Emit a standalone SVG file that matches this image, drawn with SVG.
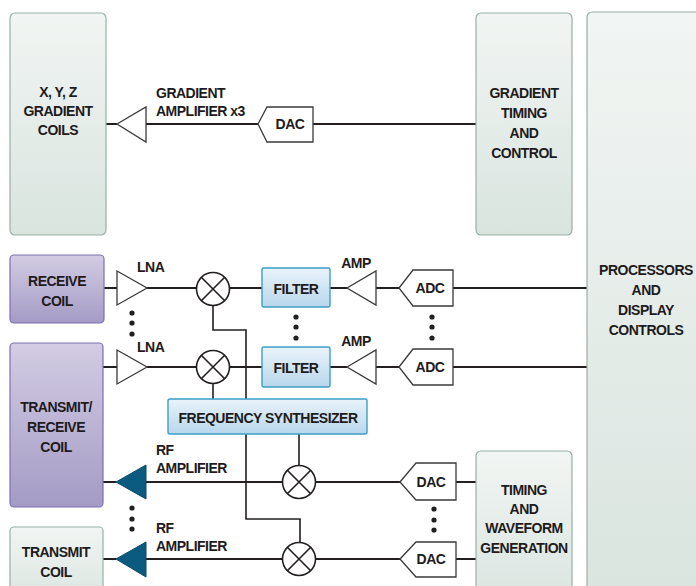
<svg xmlns="http://www.w3.org/2000/svg" width="696" height="586" viewBox="0 0 696 586">
<defs>
<linearGradient id="gGreen" x1="0" y1="0" x2="0" y2="1"><stop offset="0" stop-color="#f1f5f3"/><stop offset="1" stop-color="#d9e4df"/></linearGradient>
<linearGradient id="gPurple" x1="0" y1="0" x2="0" y2="1"><stop offset="0" stop-color="#d3cce3"/><stop offset="1" stop-color="#a49bc5"/></linearGradient>
<linearGradient id="gBlue" x1="0" y1="0" x2="0" y2="1"><stop offset="0" stop-color="#eaf3fa"/><stop offset="1" stop-color="#b8d7ec"/></linearGradient>
<style>
.t{font-family:"Liberation Sans",Arial,sans-serif;font-weight:bold;font-size:14px;letter-spacing:-0.5px;fill:#1e1b1c}
.c{text-anchor:middle}
.gbox{fill:url(#gGreen);stroke:#98b0a5;stroke-width:1.2}
.pbox{fill:url(#gPurple);stroke:#7a70b0;stroke-width:1.2}
.bbox{fill:url(#gBlue);stroke:#3c9fc6;stroke-width:1.4}
.tri{fill:#fff;stroke:#3a3a3a;stroke-width:1.3}
.rf{fill:#0b5a80;stroke:#0b4a6a;stroke-width:1}
.conv{fill:#fff;stroke:#3a3a3a;stroke-width:1.3}
.mix{fill:#fff;stroke:#231f20;stroke-width:1.6}
.w{fill:none;stroke:#231f20;stroke-width:2}
.w2{fill:none;stroke:#231f20;stroke-width:1.6}
.dot{fill:#231f20}
</style>
</defs>

<g id="connectors">
<line class="w" x1="106" y1="124" x2="117" y2="124"/>
<line class="w" x1="146" y1="124" x2="258" y2="124"/>
<line class="w" x1="313" y1="124" x2="476" y2="124"/>
<line class="w" x1="104" y1="288" x2="117" y2="288"/>
<line class="w" x1="147" y1="288" x2="196" y2="288"/>
<line class="w" x1="230" y1="288" x2="262" y2="288"/>
<line class="w" x1="330" y1="288" x2="347" y2="288"/>
<line class="w" x1="376" y1="288" x2="399" y2="288"/>
<line class="w" x1="453" y1="288" x2="587" y2="288"/>
<line class="w" x1="103" y1="367" x2="117" y2="367"/>
<line class="w" x1="147" y1="367" x2="196" y2="367"/>
<line class="w" x1="230" y1="367" x2="262" y2="367"/>
<line class="w" x1="330" y1="367" x2="347" y2="367"/>
<line class="w" x1="376" y1="367" x2="399" y2="367"/>
<line class="w" x1="453" y1="367" x2="587" y2="367"/>
<line class="w" x1="103" y1="482" x2="116" y2="482"/>
<line class="w" x1="146" y1="482" x2="282" y2="482"/>
<line class="w" x1="316" y1="482" x2="400" y2="482"/>
<line class="w" x1="456" y1="482" x2="476" y2="482"/>
<line class="w" x1="103" y1="559" x2="116" y2="559"/>
<line class="w" x1="146" y1="559" x2="282" y2="559"/>
<line class="w" x1="316" y1="559" x2="400" y2="559"/>
<line class="w" x1="456" y1="559" x2="476" y2="559"/>
<polyline class="w2" points="213,306 213,330 246,330 246,399"/>
<line class="w2" x1="213" y1="384" x2="213" y2="399"/>
<polyline class="w2" points="246,434 246,519 300,519 300,542"/>
<line class="w2" x1="299" y1="434" x2="299" y2="465"/>
</g>

<g id="gradient-coils">
<rect class="gbox" x="10" y="13" width="96" height="222" rx="5"/>
<text class="t c" x="58" y="97">X, Y, Z</text>
<text class="t c" x="58" y="116">GRADIENT</text>
<text class="t c" x="58" y="135">COILS</text>
</g>

<g id="gradient-amplifier">
<polygon class="tri" points="117,124 146,107 146,142"/>
<text class="t" x="156" y="98">GRADIENT</text>
<text class="t" x="156" y="116">AMPLIFIER x3</text>
</g>

<g id="gradient-dac">
<polygon class="conv" points="258,124 267,107 313,107 313,142 267,142"/>
<text class="t c" x="290" y="129">DAC</text>
</g>

<g id="gradient-timing">
<rect class="gbox" x="476" y="13" width="96" height="222" rx="5"/>
<text class="t c" x="524" y="98">GRADIENT</text>
<text class="t c" x="524" y="118">TIMING</text>
<text class="t c" x="524" y="138">AND</text>
<text class="t c" x="524" y="158">CONTROL</text>
</g>

<g id="processors">
<rect class="gbox" x="587" y="12" width="130" height="600" rx="5"/>
<text class="t c" x="646" y="275">PROCESSORS</text>
<text class="t c" x="646" y="295">AND</text>
<text class="t c" x="646" y="315">DISPLAY</text>
<text class="t c" x="646" y="335">CONTROLS</text>
</g>

<g id="receive-coil">
<rect class="pbox" x="10" y="255" width="94" height="68" rx="4"/>
<text class="t c" x="57" y="286">RECEIVE</text>
<text class="t c" x="57" y="306">COIL</text>
</g>

<g id="transmit-receive-coil">
<rect class="pbox" x="10" y="343" width="93" height="164" rx="4"/>
<text class="t c" x="56" y="412">TRANSMIT/</text>
<text class="t c" x="56" y="432">RECEIVE</text>
<text class="t c" x="56" y="452">COIL</text>
</g>

<g id="transmit-coil">
<rect class="gbox" x="10" y="527" width="93" height="80" rx="4"/>
<text class="t c" x="56" y="557">TRANSMIT</text>
<text class="t c" x="56" y="577">COIL</text>
</g>

<g id="lna-1">
<polygon class="tri" points="117,271 147,288 117,305"/>
<text class="t" x="137" y="272">LNA</text>
</g>
<g id="lna-2">
<polygon class="tri" points="117,350 147,367 117,384"/>
<text class="t" x="137" y="352">LNA</text>
</g>

<g id="mixer-1">
<circle class="mix" cx="213" cy="289" r="16.5"/>
<path class="w2" d="M201.3,277.3 L224.7,300.7 M224.7,277.3 L201.3,300.7"/>
</g>
<g id="mixer-2">
<circle class="mix" cx="213" cy="367" r="16.5"/>
<path class="w2" d="M201.3,355.3 L224.7,378.7 M224.7,355.3 L201.3,378.7"/>
</g>
<g id="mixer-3">
<circle class="mix" cx="299" cy="482" r="16.5"/>
<path class="w2" d="M287.3,470.3 L310.7,493.7 M310.7,470.3 L287.3,493.7"/>
</g>
<g id="mixer-4">
<circle class="mix" cx="299" cy="559" r="16.5"/>
<path class="w2" d="M287.3,547.3 L310.7,570.7 M310.7,547.3 L287.3,570.7"/>
</g>

<g id="filter-1">
<rect class="bbox" x="262" y="268" width="68" height="39" rx="2"/>
<text class="t c" x="296" y="294">FILTER</text>
</g>
<g id="filter-2">
<rect class="bbox" x="262" y="347" width="68" height="40" rx="2"/>
<text class="t c" x="296" y="373">FILTER</text>
</g>

<g id="amp-1">
<polygon class="tri" points="347,288 376,271 376,305"/>
<text class="t c" x="356" y="268">AMP</text>
</g>
<g id="amp-2">
<polygon class="tri" points="347,367 376,350 376,384"/>
<text class="t c" x="356" y="346">AMP</text>
</g>

<g id="adc-1">
<polygon class="conv" points="399,288 413,270 453,270 453,306 413,306"/>
<text class="t c" x="430" y="293">ADC</text>
</g>
<g id="adc-2">
<polygon class="conv" points="399,367 413,349 453,349 453,385 413,385"/>
<text class="t c" x="430" y="372">ADC</text>
</g>

<g id="frequency-synthesizer">
<rect class="bbox" x="168" y="399" width="199" height="35" rx="2"/>
<text class="t c" x="268" y="423">FREQUENCY SYNTHESIZER</text>
</g>

<g id="rf-amplifier-1">
<polygon class="rf" points="116,482 146,465 146,499"/>
<text class="t" x="156" y="455">RF</text>
<text class="t" x="156" y="473">AMPLIFIER</text>
</g>
<g id="rf-amplifier-2">
<polygon class="rf" points="116,559 146,542 146,577"/>
<text class="t" x="156" y="533">RF</text>
<text class="t" x="156" y="551">AMPLIFIER</text>
</g>

<g id="dac-1">
<polygon class="conv" points="400,482 416,463 456,463 456,500 416,500"/>
<text class="t c" x="431" y="487">DAC</text>
</g>
<g id="dac-2">
<polygon class="conv" points="400,559 416,542 456,542 456,577 416,577"/>
<text class="t c" x="431" y="564">DAC</text>
</g>

<g id="timing-waveform">
<rect class="gbox" x="476" y="451" width="96" height="160" rx="5"/>
<text class="t c" x="524" y="495">TIMING</text>
<text class="t c" x="524" y="514">AND</text>
<text class="t c" x="524" y="533">WAVEFORM</text>
<text class="t c" x="524" y="553">GENERATION</text>
</g>

<g id="ellipses">
<circle class="dot" cx="132" cy="313" r="2.6"/><circle class="dot" cx="132" cy="323" r="2.6"/><circle class="dot" cx="132" cy="334" r="2.6"/>
<circle class="dot" cx="296" cy="317" r="2.6"/><circle class="dot" cx="296" cy="327" r="2.6"/><circle class="dot" cx="296" cy="338" r="2.6"/>
<circle class="dot" cx="432" cy="317" r="2.6"/><circle class="dot" cx="432" cy="327" r="2.6"/><circle class="dot" cx="432" cy="338" r="2.6"/>
<circle class="dot" cx="132" cy="508" r="2.6"/><circle class="dot" cx="132" cy="519" r="2.6"/><circle class="dot" cx="132" cy="529" r="2.6"/>
<circle class="dot" cx="434" cy="509" r="2.6"/><circle class="dot" cx="434" cy="520" r="2.6"/><circle class="dot" cx="434" cy="530" r="2.6"/>
</g>
</svg>
